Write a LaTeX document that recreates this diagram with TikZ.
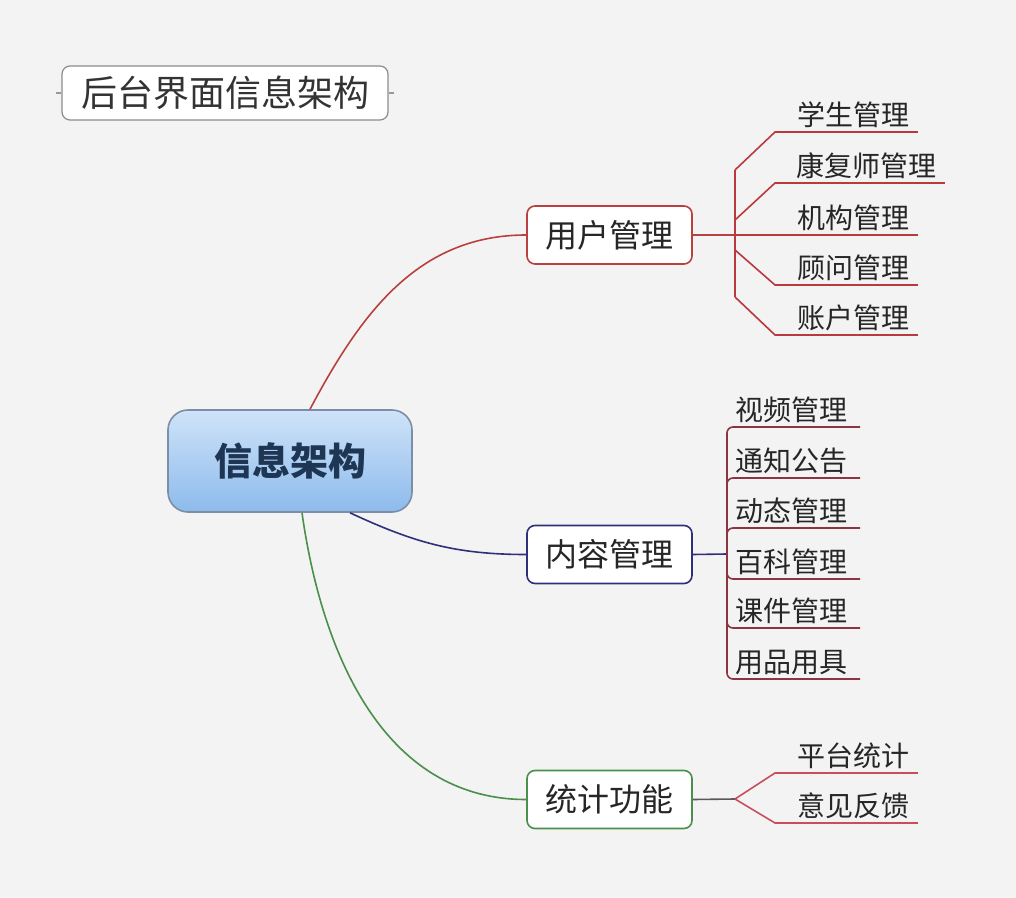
\documentclass[tikz,border=0pt]{standalone}
\usepackage{fontspec}
\newfontfamily\cjk{Noto Sans CJK SC}
\usepackage{tikz}
\usetikzlibrary{positioning}
\usepackage{xcolor}
\definecolor{bgcol}{HTML}{F3F3F3}
\definecolor{txt}{HTML}{262626}
\definecolor{ured}{HTML}{B8413F}
\definecolor{ubranch}{HTML}{B9393C}
\definecolor{cblue}{HTML}{30307A}
\definecolor{cbranch}{HTML}{8C3442}
\definecolor{sgreen}{HTML}{4A8F4A}
\definecolor{sbranch}{HTML}{C84E5C}
\definecolor{infoline}{HTML}{7C8EA6}
\definecolor{infotext}{HTML}{1E3654}
\definecolor{infotop}{HTML}{CFE3F9}
\definecolor{infobot}{HTML}{8DBBEC}

\begin{document}
\begin{tikzpicture}[
  x=0.5pt, y=-0.5pt,
  font=\cjk,
  topic/.style={draw, rounded corners=4pt, fill=white, line width=0.8pt, inner sep=0pt,
    minimum width=82.5pt, minimum height=29pt, text=txt, font=\cjk\fontsize{16}{18}\selectfont},
  uleaf/.style={anchor=south west, text width=#1, align=right, inner xsep=4pt, inner ysep=2pt,
    text=txt, font=\cjk\fontsize{14}{16}\selectfont},
  cleaf/.style={anchor=south east, inner xsep=6pt, inner ysep=2pt,
    text=txt, font=\cjk\fontsize{14}{16}\selectfont},
  link/.style={line width=0.8pt},
  twig/.style={line width=0.8pt}
]
\fill[bgcol] (0,0) rectangle (1016,898);

% title
\node[draw=black!45, rounded corners=4pt, fill=white, line width=0.6pt, inner sep=0pt,
  minimum width=163pt, minimum height=27pt, text=black!80,
  font=\cjk\fontsize{18}{20}\selectfont] (title) at (225,93) {后台界面信息架构};
\draw[black!40, line width=0.6pt] (title.west) -- ++(-5,0);
\draw[black!40, line width=0.6pt] (title.east) -- ++(5,0);

% centre
\node[draw=infoline, rounded corners=10pt, top color=infotop, bottom color=infobot,
  line width=0.8pt, minimum width=122pt, minimum height=51pt, text=infotext,
  font=\cjk\bfseries\fontsize{19}{22}\selectfont] (info) at (290,461) {信息架构};

% topics
\node[topic, draw=ured] (user) at (609.5,235) {用户管理};
\node[topic, draw=cblue] (content) at (609.5,554.5) {内容管理};
\node[topic, draw=sgreen] (stats) at (609.5,799.5) {统计功能};

\draw[link, draw=ured] ([xshift=10pt]info.north) to[out=62, in=180] (user.west);
\draw[link, draw=cblue] ([xshift=30pt]info.south) to[out=-25, in=180] (content.west);
\draw[link, draw=sgreen] ([xshift=6pt]info.south) to[out=-82, in=180] (stats.west);

% user branch
\coordinate (uj) at (735,235);
\draw[twig, draw=ured] (user.east) -- (uj);
\draw[twig, draw=ubranch] (uj) -- ++(0,-65) (uj) -- ++(0,62);
\node[uleaf=63pt] (u1) at (775,132) {学生管理};
\node[uleaf=76.5pt] (u2) at (775,183) {康复师管理};
\node[uleaf=63pt] (u3) at (775,235) {机构管理};
\node[uleaf=63pt] (u4) at (775,285) {顾问管理};
\node[uleaf=63pt] (u5) at (775,335) {账户管理};
\draw[twig, draw=ubranch] (u1.south east) -- (u1.south west) -- ++(-40,38);
\draw[twig, draw=ubranch] (u2.south east) -- (u2.south west) -- ++(-40,37);
\draw[twig, draw=ubranch] (u3.south east) -- (u3.south west) -- (uj);
\draw[twig, draw=ubranch] (u4.south east) -- (u4.south west) -- ++(-40,-35);
\draw[twig, draw=ubranch] (u5.south east) -- (u5.south west) -- ++(-40,-38);

% content branch
\coordinate (cj) at (727,554);
\draw[twig, draw=cblue] (content.east) -- (cj);
\node[cleaf] (c1) at (860,427) {视频管理};
\node[cleaf] (c2) at (860,478) {通知公告};
\node[cleaf] (c3) at (860,528) {动态管理};
\node[cleaf] (c4) at (860,579) {百科管理};
\node[cleaf] (c5) at (860,628) {课件管理};
\node[cleaf] (c6) at (860,679) {用品用具};
\draw[twig, draw=cbranch, rounded corners=3pt] (cj) |- (c1.south east);
\draw[twig, draw=cbranch, rounded corners=3pt] (cj) |- (c2.south east);
\draw[twig, draw=cbranch, rounded corners=3pt] (cj) |- (c3.south east);
\draw[twig, draw=cbranch, rounded corners=3pt] (cj) |- (c4.south east);
\draw[twig, draw=cbranch, rounded corners=3pt] (cj) |- (c5.south east);
\draw[twig, draw=cbranch, rounded corners=3pt] (cj) |- (c6.south east);

% stats branch
\coordinate (sj) at (735,799);
\draw[twig, draw=black!65] (stats.east) -- (sj);
\node[uleaf=63pt] (s1) at (775,773) {平台统计};
\node[uleaf=63pt] (s2) at (775,823) {意见反馈};
\draw[twig, draw=sbranch] (s1.south east) -- (s1.south west) -- (sj);
\draw[twig, draw=sbranch] (s2.south east) -- (s2.south west) -- (sj);
\end{tikzpicture}
\end{document}
